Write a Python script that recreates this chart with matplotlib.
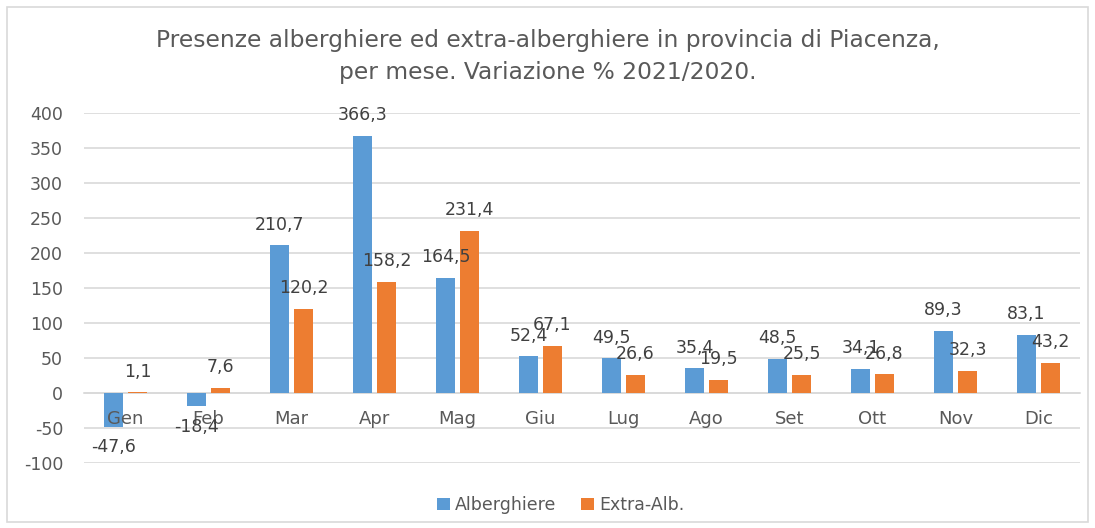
import matplotlib
matplotlib.use("Agg")
import matplotlib.pyplot as plt
from matplotlib.patches import Rectangle
import numpy as np

months = ["Gen", "Feb", "Mar", "Apr", "Mag", "Giu", "Lug", "Ago", "Set", "Ott", "Nov", "Dic"]
alberghiere = [-47.6, -18.4, 210.7, 366.3, 164.5, 52.4, 49.5, 35.4, 48.5, 34.1, 89.3, 83.1]
extra_alb = [1.1, 7.6, 120.2, 158.2, 231.4, 67.1, 26.6, 19.5, 25.5, 26.8, 32.3, 43.2]
yticks = [-100, -50, 0, 50, 100, 150, 200, 250, 300, 350, 400]
series_names = ["Alberghiere", "Extra-Alb."]

BLUE = "#5B9BD5"
ORANGE = "#ED7D31"
GRID = "#D9D9D9"
TXT = "#595959"
LBL = "#404040"

fig = plt.figure(figsize=(10.95, 5.28), dpi=100)
ax = fig.add_axes([84/1095, 1-463.3/528, (1080-84)/1095, (463.3-112.7)/528])

x = np.arange(len(months))
w = 0.22
off = 0.145
b1 = ax.bar(x - off, alberghiere, w, color=BLUE, label=series_names[0], zorder=3)
b2 = ax.bar(x + off, extra_alb, w, color=ORANGE, label=series_names[1], zorder=3)

def fmt(v):
    return f"{v:.1f}".replace(".", ",")

for bars, vals in ((b1, alberghiere), (b2, extra_alb)):
    for r, v in zip(bars, vals):
        cx = r.get_x() + r.get_width() / 2
        dy = 15 if v >= 0 else -15
        ax.annotate(fmt(v), (cx, v), xytext=(0, dy), textcoords="offset points",
                    ha="center", va="center", fontsize=12.5, color=LBL, zorder=5)

ax.set_xlim(-0.5, len(months) - 0.5)
ax.set_ylim(-100, 400)
ax.set_yticks(yticks)
ax.set_yticklabels([str(t) for t in yticks])
ax.yaxis.grid(True, color=GRID, linewidth=1.2)
ax.set_axisbelow(True)
ax.xaxis.set_zorder(4)
for s in ["left", "right", "top"]:
    ax.spines[s].set_visible(False)
ax.spines["bottom"].set_position(("data", 0))
ax.spines["bottom"].set_color(GRID)
ax.spines["bottom"].set_linewidth(1.2)
ax.spines["bottom"].set_zorder(1)
ax.set_xticks(x)
ax.set_xticklabels(months)
ax.tick_params(axis="x", length=0, pad=12, labelsize=13, labelcolor=TXT)
ax.tick_params(axis="y", length=0, pad=15, labelsize=12.5, labelcolor=TXT)

fig.text(0.5, 1-40/528, "Presenze alberghiere ed extra-alberghiere in provincia di Piacenza,",
         ha="center", va="center", fontsize=16.8, color=TXT)
fig.text(0.5, 1-72/528, "per mese. Variazione % 2021/2020.",
         ha="center", va="center", fontsize=16.8, color=TXT)

leg = fig.legend(handles=[b1, b2], labels=series_names, loc="center", bbox_to_anchor=(0.512, 1-505/528),
                 ncol=2, frameon=False, fontsize=12.5, handlelength=0.75, handleheight=0.75,
                 columnspacing=1.4, handletextpad=0.3)
for t in leg.get_texts():
    t.set_color(TXT)

fig.patches.append(Rectangle((7/1095, 1-522/528), (1088-7)/1095, (522-7)/528, transform=fig.transFigure,
                             fill=False, edgecolor="#D9D9D9", linewidth=1.2))

fig.savefig("out.png", dpi=100)
